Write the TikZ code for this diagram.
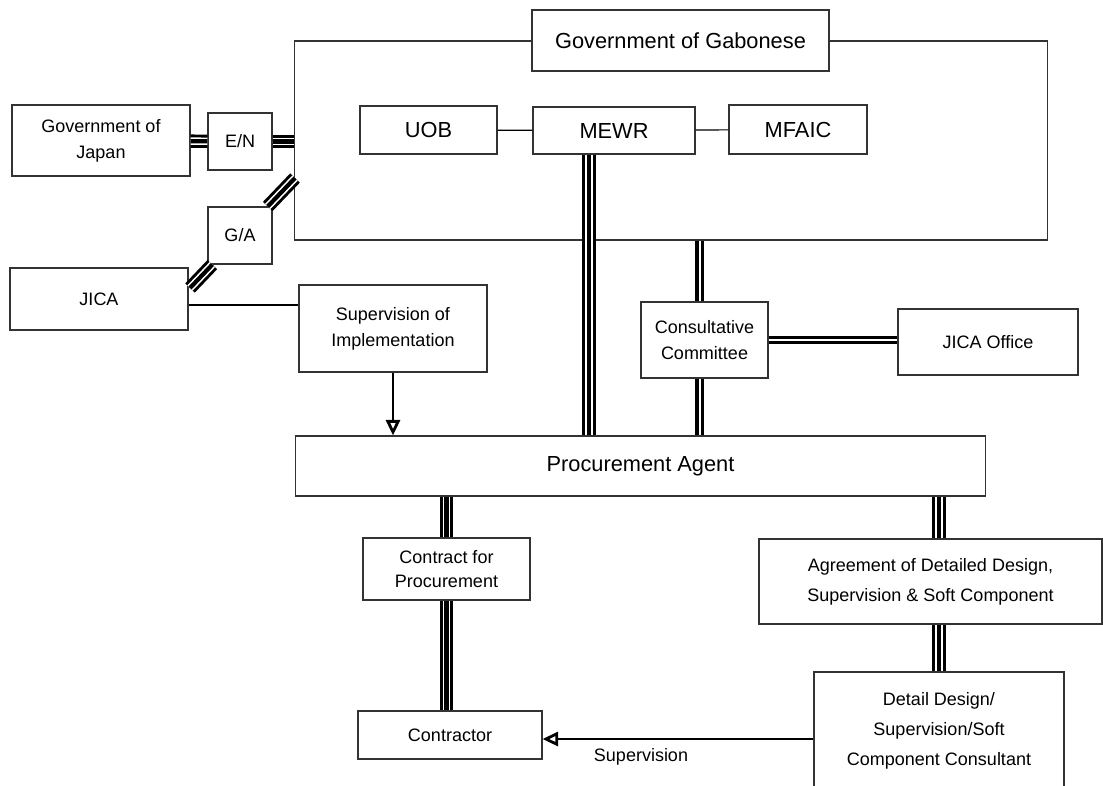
\documentclass[tikz,border=0pt]{standalone}
\usepackage{fontspec}
\setmainfont{Liberation Sans}
\usetikzlibrary{arrows.meta}

\begin{document}
\begin{tikzpicture}[
  x=0.025cm, y=-0.025cm,
  box/.style={draw=black!80, line width=0.8pt, fill=white, align=center, inner sep=0pt,
    font=\fontsize{12.8}{16.5}\selectfont},
  bigbox/.style={box, font=\fontsize{15.5}{18}\selectfont},
  wh/.style 2 args={minimum width=#1cm, minimum height=#2cm},
  thin/.style={black, line width=0.8pt},
  trip/.style={line width=9.5pt, postaction={draw=white, line width=5.3pt},
    postaction={draw=black, line width=3pt}},
  dbl/.style={double, double distance=1.5pt, line width=2.4pt},
  arr/.style={line width=2pt, -{Triangle[open, length=11pt, width=10pt]}}
]
\clip (0,0) rectangle (1103,785);

% --- Gabonese side ---
\node[box, wh={18.8}{4.975}] (govbox) at (671,140.5) {};
\node[bigbox, wh={7.425}{1.525}] (gab) at (680.5,40.5) {Government of Gabonese};
\node[bigbox, wh={3.425}{1.2}] (uob) at (428.5,130) {UOB};
\node[bigbox, wh={4.05}{1.175}] (mewr) at (614,130.5) {MEWR};
\node[bigbox, wh={3.45}{1.225}] (mfaic) at (798,129.5) {MFAIC};

% --- Japanese side ---
\node[box, wh={4.45}{1.775}] (japan) at (101,140.5) {Government of\\[2pt]Japan};
\node[box, wh={1.6}{1.425}] (en) at (240,141.5) {E/N};
\node[box, wh={1.6}{1.425}] (ga) at (240,235.5) {G/A};
\node[box, wh={4.45}{1.55}] (jica) at (99,299) {JICA};
\node[box, wh={4.7}{2.175}] (soi) at (393,328.5) {Supervision of\\[2pt]Implementation};
\node[box, wh={3.175}{1.9}] (cc) at (704.5,340) {Consultative\\[2pt]Committee};
\node[box, wh={4.5}{1.65}] (jicaoff) at (988,342) {JICA Office};

% --- procurement ---
\node[bigbox, wh={17.225}{1.5}] (pa) at (640.5,466) {Procurement Agent};
\node[box, wh={4.175}{1.55}] (cfp) at (446.5,569) {Contract for\\Procurement};
\node[box, wh={4.6}{1.2}] (contr) at (450,735) {Contractor};
\node[box, wh={8.575}{2.125}] (agr) at (930.5,581.5)
  {Agreement of Detailed Design,\\[5pt]Supervision \& Soft Component};
\node[box, wh={6.25}{2.95}] (dd) at (939,731)
  {Detail Design/\\[5pt]Supervision/Soft\\[5pt]Component Consultant};

% free ends of the G/A line
\coordinate (gaL) at (190,288);
\coordinate (gaR) at (295,178);

% --- connectors ---
\draw[thin] (uob) -- (mewr);
\draw[thin] (mewr) -- (mfaic);
\draw[trip] (japan) -- (en);
\draw[trip] (en) -- (en -| govbox.west);
\draw[trip] (gaL) -- (ga);
\draw[trip] (ga) -- (gaR);
\draw[thin] ([yshift=-0.15cm]jica.east) -- ([yshift=-0.15cm]jica.east -| soi.west);
\draw[trip] ([xshift=-0.625cm]mewr.south) -- ([xshift=-0.625cm]mewr.south |- pa.north);
\draw[dbl] ([xshift=-0.12cm]cc.north |- govbox.south) -- ([xshift=-0.12cm]cc.north);
\draw[dbl] ([xshift=-0.12cm]cc.south) -- ([xshift=-0.12cm]cc.south |- pa.north);
\draw[dbl] (cc.east) -- (cc.east -| jicaoff.west);
\draw[arr] (soi.south) -- (soi.south |- pa.north);
\draw[trip] (cfp.north |- pa.south) -- (cfp.north);
\draw[trip] (cfp.south) -- (cfp.south |- contr.north);
\draw[trip] (dd.north |- pa.south) -- (dd.north |- agr.north);
\draw[trip] (dd.north |- agr.south) -- (dd.north);
\draw[arr] ([yshift=-0.1cm]dd.west |- contr.east) -- ([yshift=-0.1cm]contr.east);
\node[font=\fontsize{12.8}{16.5}\selectfont] (sup) at (641,757) {Supervision};

\end{tikzpicture}
\end{document}
